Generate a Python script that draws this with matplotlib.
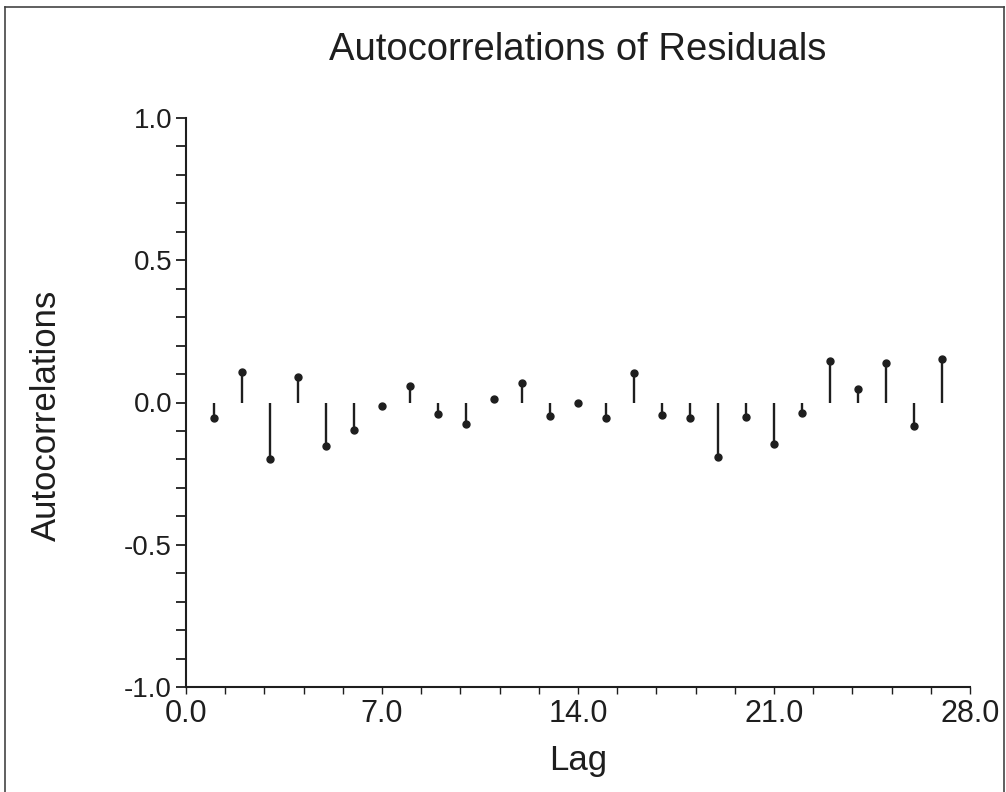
#! /usr/bin/env python3
""" Autocorrelations of residuals shown as a stem plot. """

import matplotlib
matplotlib.use('Agg')
import matplotlib.pyplot as plt
from matplotlib.lines import Line2D
from matplotlib.ticker import MultipleLocator

lags = list(range(1, 28))
acf = [-0.054, 0.106, -0.197, 0.090, -0.154, -0.097, -0.011, 0.058, -0.040,
       -0.075, 0.012, 0.067, -0.048, -0.001, -0.054, 0.104, -0.044, -0.056,
       -0.193, -0.050, -0.147, -0.038, 0.147, 0.048, 0.140, -0.081, 0.153]

title = 'Autocorrelations of Residuals'
xlabel = 'Lag'
ylabel = 'Autocorrelations'

INK = '#1e1e1e'


def main():
    plt.rcParams['font.family'] = ['Liberation Sans', 'DejaVu Sans']
    fig = plt.figure(figsize=(10.06, 7.92), dpi=100)
    W, H = 1006, 792
    ax = fig.add_axes([186 / W, 1 - 687 / H, (970 - 186) / W, (687 - 118) / H])

    ax.vlines(lags, 0, acf, color=INK, lw=1.7)
    ax.plot(lags, acf, 'o', color=INK, ms=5)

    ax.set_xlim(0, 28)
    ax.set_ylim(-1, 1)
    ax.xaxis.set_major_locator(MultipleLocator(7))
    ax.xaxis.set_minor_locator(MultipleLocator(1.4))
    ax.yaxis.set_major_locator(MultipleLocator(0.5))
    ax.yaxis.set_minor_locator(MultipleLocator(0.1))
    ax.xaxis.set_major_formatter(lambda v, p: '{:.1f}'.format(v))
    ax.yaxis.set_major_formatter(lambda v, p: '{:.1f}'.format(v))

    for s in ['top', 'right']:
        ax.spines[s].set_visible(False)
    for s in ['left', 'bottom']:
        ax.spines[s].set_linewidth(1.5)
        ax.spines[s].set_color(INK)

    ax.tick_params(axis='y', which='both', direction='out', length=7,
                   width=1.3, color=INK, labelsize=20, labelcolor=INK, pad=3)
    ax.tick_params(axis='x', which='both', direction='out', length=5,
                   width=1.0, color=INK, labelsize=22, labelcolor=INK, pad=4)

    fig.text(578 / W, 1 - 60 / H, title, ha='center', va='baseline',
             fontsize=27.5, color=INK)
    fig.text(578 / W, 1 - 770 / H, xlabel, ha='center', va='baseline',
             fontsize=25, color=INK)
    fig.text(46 / W, 1 - 415 / H, ylabel, ha='center', va='center',
             rotation=90, fontsize=25, color=INK)

    # thin frame left/top/right like the original export
    for xs, ys in [([5 / W, 5 / W], [0, 1 - 7 / H]),
                   ([5 / W, 1004 / W], [1 - 7 / H, 1 - 7 / H]),
                   ([1004 / W, 1004 / W], [0, 1 - 7 / H])]:
        fig.add_artist(Line2D(xs, ys, color='#444444', lw=1.2))

    fig.savefig('out.png', dpi=100)


if __name__ == "__main__":
    main()
